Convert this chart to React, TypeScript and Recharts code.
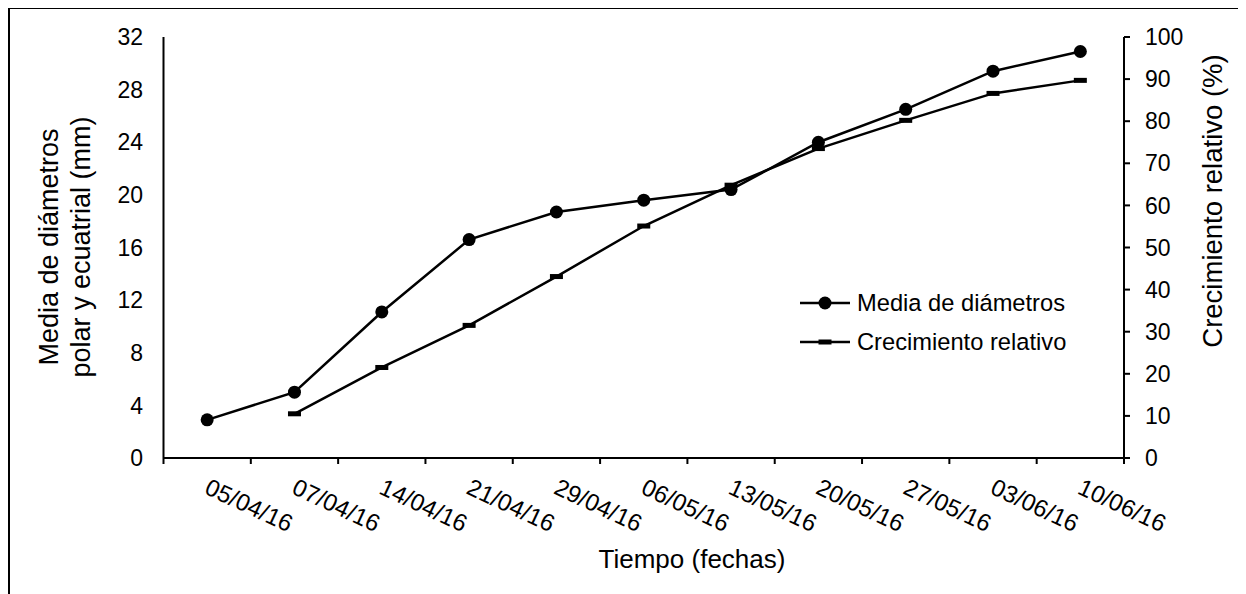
import React from 'react';
import { LineChart, Line, XAxis, YAxis, Legend } from 'recharts';

const fechas = ['05/04/16', '07/04/16', '14/04/16', '21/04/16', '29/04/16', '06/05/16', '13/05/16', '20/05/16', '27/05/16', '03/06/16', '10/06/16'];
const mediaDiametros = [2.9, 5.0, 11.1, 16.6, 18.7, 19.6, 20.4, 24.0, 26.5, 29.4, 30.9];
const crecimientoRelativo = [null, 10.5, 21.5, 31.5, 43.1, 55.1, 64.8, 73.5, 80.2, 86.6, 89.7];
const ticksIzq = [0, 4, 8, 12, 16, 20, 24, 28, 32];
const ticksDer = [0, 10, 20, 30, 40, 50, 60, 70, 80, 90, 100];

const data = fechas.map((fecha, i) => ({
  fecha,
  media: mediaDiametros[i],
  crec: crecimientoRelativo[i],
}));

const FONT = '"Liberation Sans", Arial, sans-serif';
const W = 1234;
const H = 600;
const M = { top: 30, right: 0, bottom: 0, left: 0 };
const LEFT_W = 155.5;
const RIGHT_W = 118;
const X_H = 149;
const BAND = (W - LEFT_W - RIGHT_W) / fechas.length;

const DateTick = (props: any) => {
  const { x, y, payload, index } = props;
  const half = payload?.offset || BAND / 2;
  const tx = x - 4;
  const ty = y + 35;
  return (
    <g>
      <line x1={x - half} x2={x - half} y1={y} y2={y + 6} stroke="#000" strokeWidth={2} />
      {index === fechas.length - 1 && (
        <line x1={x + half} x2={x + half} y1={y} y2={y + 6} stroke="#000" strokeWidth={2} />
      )}
      <text x={tx} y={ty} transform={`rotate(25, ${tx}, ${ty})`} textAnchor="start" fontSize={24} fontFamily={FONT} fill="#000">
        {payload.value}
      </text>
    </g>
  );
};

const CircleDot = (props: any) => {
  const { cx, cy, value } = props;
  if (value == null || cx == null || cy == null) return null;
  return <circle cx={cx} cy={cy} r={6.5} fill="#000" />;
};

const DashDot = (props: any) => {
  const { cx, cy, value } = props;
  if (value == null || cx == null || cy == null) return null;
  return <rect x={cx - 6.5} y={cy - 2.5} width={13} height={5} fill="#000" />;
};

const LeftTitle = () => (
  <text transform="translate(0, 240) rotate(-90)" textAnchor="middle" fontSize={27} fontFamily={FONT} fill="#000">
    <tspan x={0} y={50}>Media de diámetros</tspan>
    <tspan x={0} y={81.5}>polar y ecuatrial (mm)</tspan>
  </text>
);

const RightTitle = () => (
  <text x={0} y={0} transform="translate(1214, 194) rotate(-90)" textAnchor="middle" fontSize={27.5} fontFamily={FONT} fill="#000">
    Crecimiento relativo (%)
  </text>
);

const XTitle = () => (
  <text x={684} y={561} textAnchor="middle" fontSize={26} fontFamily={FONT} fill="#000">
    Tiempo (fechas)
  </text>
);

const LegendBox = () => (
  <svg width={300} height={80} style={{ overflow: 'visible' }}>
    <line x1={2} x2={52} y1={21} y2={21} stroke="#000" strokeWidth={2.5} />
    <circle cx={27} cy={21} r={6.5} fill="#000" />
    <text x={59} y={21} dy="0.35em" fontSize={23.7} fontFamily={FONT} fill="#000">Media de diámetros</text>
    <line x1={2} x2={52} y1={60} y2={60} stroke="#000" strokeWidth={2.5} />
    <rect x={20.5} y={57.5} width={13} height={5} fill="#000" />
    <text x={59} y={60} dy="0.35em" fontSize={23.7} fontFamily={FONT} fill="#000">Crecimiento relativo</text>
  </svg>
);

export default function App() {
  return (
    <div
      style={{
        position: 'relative',
        width: W,
        height: H,
        border: '2px solid #000',
        boxSizing: 'border-box',
        marginTop: -1,
      }}
    >
      <div style={{ position: 'absolute', left: -2, top: -2 }}>
        <LineChart width={W} height={H} data={data} margin={M}>
          <XAxis
            dataKey="fecha"
            scale="band"
            height={X_H}
            tickLine={false}
            tickSize={0}
            tickMargin={0}
            interval={0}
            axisLine={{ stroke: '#000', strokeWidth: 2 }}
            tick={<DateTick />}
            label={<XTitle />}
          />
          <YAxis
            yAxisId="izq"
            orientation="left"
            width={LEFT_W}
            domain={[0, 32]}
            ticks={ticksIzq}
            interval={0}
            tickLine={false}
            tickSize={0}
            tickMargin={20.5}
            axisLine={{ stroke: '#000', strokeWidth: 2 }}
            tick={{ fill: '#000', fontSize: 23, fontFamily: FONT }}
            label={<LeftTitle />}
          />
          <YAxis
            yAxisId="der"
            orientation="right"
            width={RIGHT_W}
            domain={[0, 100]}
            ticks={ticksDer}
            interval={0}
            tickSize={6}
            tickMargin={15}
            tickLine={{ stroke: '#000', strokeWidth: 2 }}
            axisLine={{ stroke: '#000', strokeWidth: 2 }}
            tick={{ fill: '#000', fontSize: 23, fontFamily: FONT, textAnchor: 'start' }}
            label={<RightTitle />}
          />
          <Legend
            layout="horizontal"
            verticalAlign="middle"
            align="center"
            content={<LegendBox />}
            wrapperStyle={{ position: 'absolute', left: 790, top: 275, width: 300, height: 80 }}
          />
          <Line
            yAxisId="izq"
            dataKey="media"
            name="Media de diámetros"
            stroke="#000"
            strokeWidth={2.5}
            dot={<CircleDot />}
            activeDot={false}
            isAnimationActive={false}
          />
          <Line
            yAxisId="der"
            dataKey="crec"
            name="Crecimiento relativo"
            stroke="#000"
            strokeWidth={2.5}
            dot={<DashDot />}
            activeDot={false}
            isAnimationActive={false}
          />
        </LineChart>
      </div>
    </div>
  );
}
